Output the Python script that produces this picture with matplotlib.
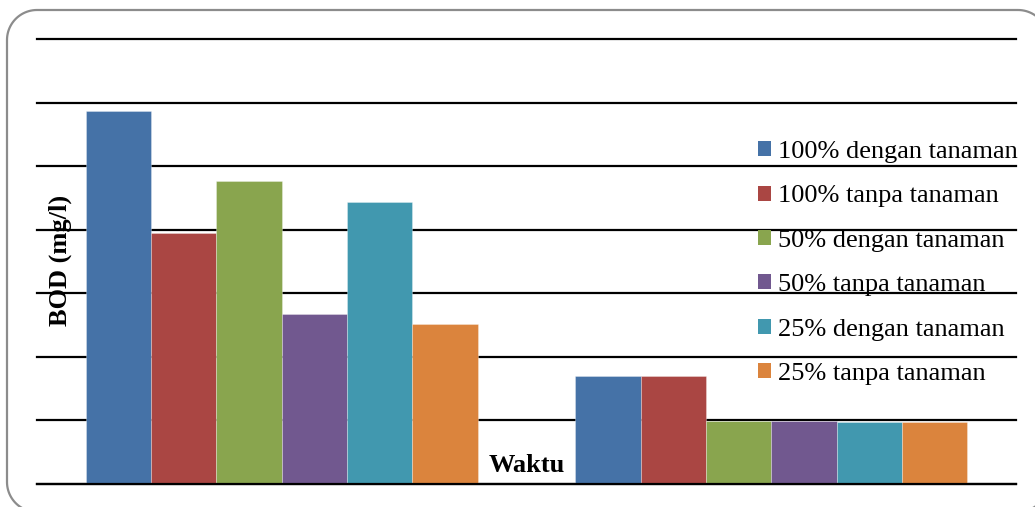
import matplotlib
matplotlib.use("Agg")
import matplotlib.pyplot as plt
from matplotlib.patches import PathPatch
from matplotlib.path import Path
from matplotlib.transforms import Affine2D
import numpy as np

# BOD measurements per treatment, two sampling times
times = ["Awal", "Akhir"]
series = [
    "100% dengan tanaman",
    "100% tanpa tanaman",
    "50% dengan tanaman",
    "50% tanpa tanaman",
    "25% dengan tanaman",
    "25% tanpa tanaman",
]
bod_100_dengan = [5.87, 1.70]
bod_100_tanpa = [3.95, 1.70]
bod_50_dengan = [4.77, 0.99]
bod_50_tanpa = [2.68, 0.99]
bod_25_dengan = [4.44, 0.98]
bod_25_tanpa = [2.52, 0.98]
values = [bod_100_dengan, bod_100_tanpa, bod_50_dengan,
          bod_50_tanpa, bod_25_dengan, bod_25_tanpa]
colors = ["#4572A7", "#AA4643", "#89A54E", "#71588F", "#4198AF", "#DB843D"]

W, H = 1035, 507
fig = plt.figure(figsize=(W / 100, H / 100), dpi=100)


def rounded_frame(x0, y0, x1, y1, r, n=24):
    """Closed rounded-rectangle outline in pixel units (y measured from top)."""
    pts = []
    corners = [(x1 - r, y0 + r, -90, 0), (x1 - r, y1 - r, 0, 90),
               (x0 + r, y1 - r, 90, 180), (x0 + r, y0 + r, 180, 270)]
    for cx, cy, a0, a1 in corners:
        t = np.radians(np.linspace(a0, a1, n))
        pts.extend(zip(cx + r * np.cos(t), cy + r * np.sin(t)))
    pts.append(pts[0])
    pts = np.array(pts)
    pts[:, 1] = H - pts[:, 1]
    return Path(pts)


frame = PathPatch(rounded_frame(7, 10, 1048, 512, 30),
                  transform=Affine2D().scale(1 / W, 1 / H) + fig.transFigure,
                  facecolor="none", edgecolor="#8c8c8c", linewidth=1.6,
                  zorder=10)
fig.patches.append(frame)

ax = fig.add_axes([37 / W, (H - 484) / H, (1016 - 37) / W, (484 - 39) / H])
ax.patch.set_alpha(0)

x = np.arange(len(times))
n = len(series)
bw = 0.8 / n
for i, (name, vals, c) in enumerate(zip(series, values, colors)):
    ax.bar(x - 0.4 + bw * (i + 0.5), vals, width=bw, color=c, label=name,
           edgecolor=(1, 1, 1, 0.35), linewidth=0.6, zorder=3)

ax.set_xlim(-0.5, 1.5)
ax.set_ylim(0, 7)
ax.set_yticks(range(8))
ax.yaxis.grid(True, color="black", linewidth=1.6)
for gl in ax.yaxis.get_gridlines():
    gl.set_clip_on(False)
ax.set_axisbelow(True)
ax.tick_params(left=False, bottom=False, labelleft=False, labelbottom=False)
ax.set_xticks([])
for s in ax.spines.values():
    s.set_visible(False)
base = ax.axhline(0, color="black", linewidth=1.6, zorder=4)
base.set_clip_on(False)

serif = "Liberation Serif"
ax.set_ylabel("BOD (mg/l)", family=serif, fontsize=19, fontweight="bold")
ax.yaxis.label.set_va("center")
ax.yaxis.set_label_coords((60 - 37) / 979, (484 - 260) / 445)
ax.set_xlabel("Waktu", family=serif, fontsize=19, fontweight="bold")
ax.xaxis.label.set_va("center")
ax.xaxis.set_label_coords((527 - 37) / 979, (484 - 465) / 445)

leg = ax.legend(loc="upper left", bbox_to_anchor=(758 / W, (H - 141) / H),
                bbox_transform=fig.transFigure, frameon=False,
                prop={"family": serif, "size": 19},
                handlelength=0.5, handleheight=0.5, handletextpad=0.27,
                labelspacing=0.85, borderaxespad=0, borderpad=0)
leg.set_zorder(5)
for h in leg.legend_handles:
    h.set_edgecolor("none")

fig.savefig("out.png", dpi=100)
